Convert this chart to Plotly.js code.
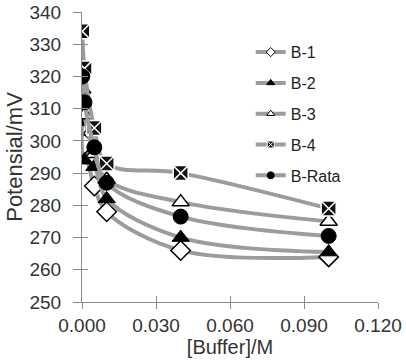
<!DOCTYPE html>
<html>
<head>
<meta charset="utf-8">
<script src="https://cdn.plot.ly/plotly-3.0.1.min.js"></script>
<style>html,body{margin:0;padding:0;background:#fff}#chart{width:406px;height:362px}</style>
</head>
<body>
<div id="chart"></div>
<script>
var buffer = [0.0001, 0.001, 0.005, 0.01, 0.04, 0.1];
var seriesNames = ["B-1", "B-2", "B-3", "B-4", "B-Rata"];
var b1 = [305, 299, 286, 278, 266, 264];
var b2 = [306, 294, 292, 282, 270, 265.5];
var b3 = [316, 308, 296, 288, 281, 275];
var b4 = [334, 322.5, 304, 293, 290, 279];
var bRata = [320, 312, 298, 287, 276.5, 270.5];
var xTicks = [0, 0.03, 0.06, 0.09, 0.12];
var xTickText = ["0.000", "0.030", "0.060", "0.090", "0.120"];
var yTicks = [250, 260, 270, 280, 290, 300, 310, 320, 330, 340];

var values = [b1, b2, b3, b4, bRata];
var markerStyles = [
  {symbol: "diamond", color: "#ffffff", line: {color: "#000000", width: 1.5}},
  {symbol: "triangle-up", color: "#000000", line: {color: "#000000", width: 1}},
  {symbol: "triangle-up", color: "#ffffff", line: {color: "#000000", width: 1.5}},
  {symbol: "square-x", color: "#111111", line: {color: "#ffffff", width: 1.5}},
  {symbol: "circle", color: "#000000", line: {color: "#000000", width: 1}}
];
var lineColor = "#9c9c9c";
var traces = [];
for (var i = 0; i < values.length; i++) {
  var ms = markerStyles[i];
  traces.push({
    x: buffer, y: values[i], type: "scatter", mode: "lines+markers",
    name: seriesNames[i], showlegend: false,
    line: {color: lineColor, width: 4, shape: "spline", smoothing: 1},
    marker: {symbol: ms.symbol, size: 15, color: ms.color, line: ms.line}
  });
}
for (var j = 0; j < values.length; j++) {
  var ms2 = markerStyles[j];
  traces.push({
    x: [null], y: [null], type: "scatter", mode: "lines+markers",
    name: seriesNames[j], showlegend: true, legendgroup: "g" + j,
    xaxis: "x2", yaxis: "y2",
    line: {color: lineColor, width: 4},
    marker: {symbol: ms2.symbol, size: 7, color: ms2.color, line: {color: ms2.symbol === "square-x" ? "#ffffff" : "#000000", width: 1}}
  });
}
var tickFont = {family: "Liberation Sans, Arial, sans-serif", size: 19, color: "#333333"};
var layout = {
  width: 406, height: 362,
  margin: {l: 82, r: 28, t: 12, b: 60},
  paper_bgcolor: "#ffffff", plot_bgcolor: "rgba(0,0,0,0)",
  showlegend: true,
  xaxis: {
    range: [0, 0.12], tickvals: xTicks, ticktext: xTickText,
    showgrid: false, zeroline: false, showline: true, linecolor: "#8a8a8a", linewidth: 1,
    ticks: "outside", ticklen: 6, tickcolor: "#8a8a8a", tickfont: tickFont,
    title: {text: "[Buffer]/M", font: {family: "Liberation Sans, Arial, sans-serif", size: 20, color: "#333333"}, standoff: 2}
  },
  yaxis: {
    range: [250, 340], tickvals: yTicks,
    showgrid: false, zeroline: false, showline: true, linecolor: "#8a8a8a", linewidth: 1,
    ticks: "outside", ticklen: 8, tickcolor: "#8a8a8a", tickfont: tickFont, ticklabelstandoff: 8,
    title: {text: "Potensial/mV", font: {family: "Liberation Sans, Arial, sans-serif", size: 22, color: "#333333"}, standoff: 0}
  },
  xaxis2: {range: [0, 0.12], overlaying: "x", anchor: "y2", tickvals: xTicks, showticklabels: false, ticks: "inside", ticklen: 6, tickcolor: "#8a8a8a", showgrid: false, zeroline: false, showline: false},
  yaxis2: {range: [250, 340], overlaying: "y", anchor: "x2", tickvals: yTicks, showticklabels: false, ticks: "inside", ticklen: 6, tickcolor: "#8a8a8a", showgrid: false, zeroline: false, showline: false},
  legend: {
    x: 0.57, y: 0.92, xanchor: "left", yanchor: "top",
    bgcolor: "rgba(0,0,0,0)", traceorder: "grouped", tracegroupgap: 7,
    font: {family: "Liberation Sans, Arial, sans-serif", size: 16, color: "#222"}
  }
};
Plotly.newPlot("chart", traces, layout, {displayModeBar: false, staticPlot: true});
</script>
</body>
</html>
